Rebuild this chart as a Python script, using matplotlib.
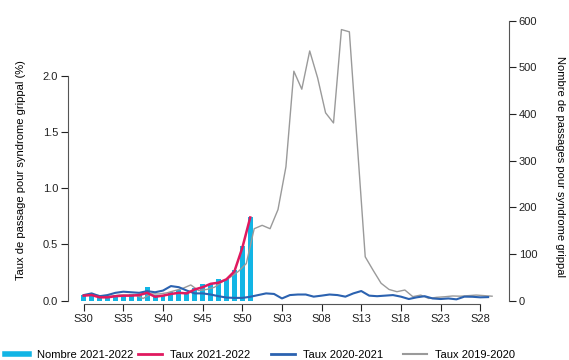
import matplotlib
matplotlib.use("Agg")
import matplotlib.pyplot as plt
from matplotlib.lines import Line2D
import numpy as np

plt.rcParams['font.family'] = ['Liberation Sans', 'DejaVu Sans']
plt.rcParams['font.size'] = 8

# semaines S30 -> S29 (52 semaines)
tick_labels = ['S30', 'S35', 'S40', 'S45', 'S50', 'S03', 'S08', 'S13', 'S18', 'S23', 'S28']

# nombre de passages 2021-2022 (axe droit)
nombre_2122 = [12, 17, 9, 10, 12, 12, 14, 14, 29, 12, 13, 19, 23, 19, 27,
               36, 36, 46, 46, 66, 117, 180]

# taux 2021-2022 (%)
taux_2122 = [0.045, 0.05, 0.03, 0.03, 0.04, 0.045, 0.045, 0.05, 0.07, 0.035, 0.045,
             0.06, 0.07, 0.065, 0.10, 0.12, 0.15, 0.16, 0.19, 0.26, 0.47, 0.74]

# taux 2020-2021 (%)
taux_2021 = [0.05, 0.065, 0.04, 0.05, 0.07, 0.08, 0.075, 0.07, 0.085, 0.075, 0.09,
             0.13, 0.12, 0.09, 0.065, 0.065, 0.055, 0.04, 0.028, 0.025, 0.025, 0.035,
             0.05, 0.065, 0.06, 0.02, 0.05, 0.055, 0.055, 0.036, 0.045, 0.055, 0.05,
             0.036, 0.065, 0.086, 0.045, 0.04, 0.045, 0.05, 0.036, 0.015, 0.03, 0.04,
             0.02, 0.015, 0.02, 0.012, 0.036, 0.035, 0.03, 0.032]

# taux 2019-2020 (%)
taux_1920 = [0.05, 0.05, 0.04, 0.04, 0.05, 0.05, 0.05, 0.02, 0.06, 0.06, 0.07,
             0.09, 0.11, 0.14, 0.09, 0.10, 0.12, 0.17, 0.21, 0.26, 0.33, 0.64,
             0.67, 0.64, 0.81, 1.19, 2.04, 1.88, 2.22, 1.98, 1.67, 1.58, 2.41,
             2.39, 1.39, 0.39, 0.27, 0.155, 0.10, 0.08, 0.095, 0.036, 0.05, 0.02,
             0.03, 0.035, 0.042, 0.04, 0.045, 0.05, 0.045, 0.04]

c_bar = '#12b5e5'
c_red = '#e0195f'
c_blue = '#2b62b0'
c_grey = '#9a9a9a'

fig = plt.figure(figsize=(5.69, 3.6), dpi=100)
ax = fig.add_axes([68 / 569, 56 / 360, 441 / 569, 292 / 360])
ax2 = ax.twinx()

x_2122 = np.arange(len(nombre_2122))
ax2.bar(x_2122, nombre_2122, width=0.62, color=c_bar, zorder=1)

ax.plot(np.arange(len(taux_1920)) + 0.5, taux_1920, color=c_grey, lw=1.0, zorder=3)
ax.plot(np.arange(len(taux_2021)), taux_2021, color=c_blue, lw=1.5, zorder=4)
ax.plot(np.arange(len(taux_2122)), taux_2122, color=c_red, lw=1.8, zorder=5)

# draw lines above the bars of the twin axis
ax.set_zorder(ax2.get_zorder() + 1)
ax.patch.set_visible(False)

ax.set_xlim(-1.98, 53.63)
ax.set_ylim(-3.3 / 112.5, 288.7 / 112.5)
ax2.set_ylim(-3.3 / 0.46667, 288.7 / 0.46667)

ax.set_xticks(np.arange(0, 51, 5))
ax.set_xticklabels(tick_labels)
ax.set_yticks([0, 0.5, 1.0, 1.5, 2.0])
ax.set_yticklabels(['0.0', '0.5', '1.0', '1.5', '2.0'])
ax2.set_yticks([0, 100, 200, 300, 400, 500, 600])

for a in (ax, ax2):
    a.spines['top'].set_visible(False)
    a.tick_params(colors='#222222', length=5, width=0.8, labelsize=8, pad=2)
    for s in a.spines.values():
        s.set_color('#555555')
        s.set_linewidth(0.8)
ax.spines['right'].set_visible(False)
ax2.spines['left'].set_visible(False)
ax2.spines['bottom'].set_visible(False)
ax.spines['left'].set_bounds(0, 2)
ax.spines['bottom'].set_bounds(0, 50)
ax2.spines['right'].set_bounds(0, 600)

ax.set_ylabel('Taux de passage pour syndrome grippal (%)', fontsize=8, labelpad=12)
ax2.set_ylabel('Nombre de passages pour syndrome grippal', fontsize=8,
               rotation=270, labelpad=20)
ax.yaxis.label.set_y(0.46)
ax2.yaxis.label.set_y(0.47)

entries = [
    (Line2D([], [], color=c_bar, lw=4), 'Nombre 2021-2022', 5),
    (Line2D([], [], color=c_red, lw=2), 'Taux 2021-2022', 138),
    (Line2D([], [], color=c_blue, lw=2), 'Taux 2020-2021', 271),
    (Line2D([], [], color=c_grey, lw=1.5), 'Taux 2019-2020', 403),
]
for h, lab, px in entries:
    fig.legend([h], [lab], loc='center left', bbox_to_anchor=(px / 569, 5 / 360),
               frameon=False, borderaxespad=0, borderpad=0, handlelength=2.2,
               handletextpad=0.7, fontsize=8)

fig.savefig('out.png', dpi=100)
